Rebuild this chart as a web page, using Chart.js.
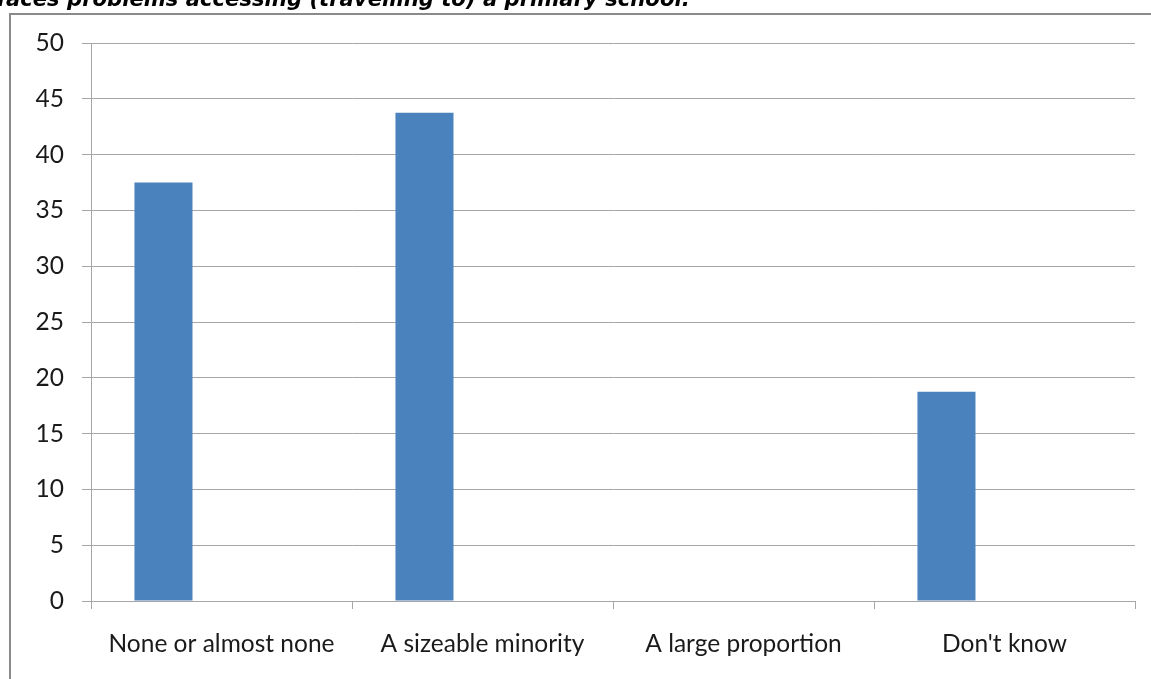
<!DOCTYPE html>
<html>
<head>
<meta charset="utf-8">
<script src="https://cdn.jsdelivr.net/npm/chart.js@4/dist/chart.umd.min.js"></script>
<style>
  html, body { margin: 0; padding: 0; background: #fff; overflow: hidden; }
  #wrap { position: relative; width: 1151px; height: 679px; overflow: hidden; }
  #frame {
    position: absolute; left: 9px; top: 13px; width: 1300px; height: 800px;
    border-left: 2px solid #8a8a8a; border-top: 2px solid #8a8a8a;
  }
  #chart { position: absolute; left: 0; top: 0; }
</style>
</head>
<body>
<div id="wrap">
  <div id="frame"></div>
  <canvas id="chart" width="1151" height="679"></canvas>
</div>
<script>
// Survey answers and their percentages
const categories = ['None or almost none', 'A sizeable minority', 'A large proportion', "Don't know"];
const responses = [37.5, 43.75, 0, 18.75];
// Two further series in the same clusters carry no values
const seriesB = [null, null, null, null];
const seriesC = [null, null, null, null];
const yTicks = [0, 5, 10, 15, 20, 25, 30, 35, 40, 45, 50];

// Caption line running above the chart frame
const captionLead = 'faces ';
const captionText = 'problems accessing (travelling to) a primary school.';

const gridGrey = '#a6a6a6';
const labelFont = { family: 'Lato, "Liberation Sans", sans-serif', size: 24.5 };

const captionPlugin = {
  id: 'caption',
  afterDraw(chart) {
    const ctx = chart.ctx;
    ctx.save();
    const fam = '"DejaVu Sans", sans-serif';
    ctx.font = `italic bold 20px ${fam}`;
    const w20 = ctx.measureText(captionText).width;
    const size = 20 * 623 / w20;
    ctx.font = `italic bold ${size}px ${fam}`;
    const leadW = ctx.measureText(captionLead).width;
    ctx.fillStyle = '#000';
    ctx.textBaseline = 'alphabetic';
    ctx.textAlign = 'left';
    ctx.fillText(captionLead + captionText, 67 - leadW, 6);
    ctx.restore();
  }
};

new Chart(document.getElementById('chart'), {
  type: 'bar',
  data: {
    labels: categories,
    datasets: [
      { data: responses, backgroundColor: '#4a82bd', borderWidth: 0 },
      { data: seriesB, backgroundColor: '#c0504d' },
      { data: seriesC, backgroundColor: '#9bbb59' }
    ]
  },
  plugins: [captionPlugin],
  options: {
    responsive: false,
    animation: false,
    categoryPercentage: 0.667,
    barPercentage: 1.0,
    layout: { padding: { left: 0, right: 16, top: 43, bottom: 0 } },
    plugins: { legend: { display: false }, tooltip: { enabled: false }, title: { display: false } },
    scales: {
      x: {
        offset: true,
        grid: { offset: true, drawOnChartArea: false, drawTicks: true, tickLength: 8, color: gridGrey, lineWidth: 1 },
        border: { display: true, color: gridGrey, width: 1 },
        ticks: { color: '#1a1a1a', font: labelFont, padding: 20, maxRotation: 0, autoSkip: false },
        afterFit: (s) => { s.height = 78; }
      },
      y: {
        min: 0, max: 50,
        afterBuildTicks: (s) => { s.ticks = yTicks.map(v => ({ value: v })); },
        grid: { color: gridGrey, lineWidth: 1, drawTicks: true, tickLength: 9 },
        border: { display: true, color: gridGrey, width: 1 },
        ticks: { color: '#1a1a1a', font: labelFont, padding: 18 },
        afterFit: (s) => { s.width = 91; }
      }
    }
  }
});
</script>
</body>
</html>
